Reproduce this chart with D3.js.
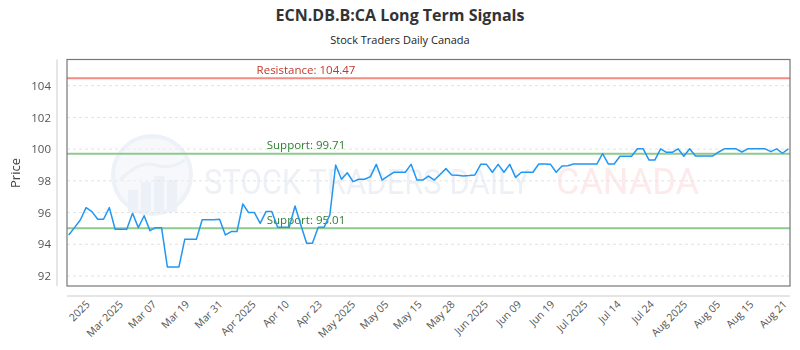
<!DOCTYPE html>
<html>
<head>
<meta charset="utf-8">
<script src="https://cdn.jsdelivr.net/npm/d3@7"></script>
<style>
	body { margin: 0; background: #fff; }
	svg { display: block; font-family: "Open Sans", "DejaVu Sans", sans-serif; }
</style>
</head>
<body>
<svg id="chart" width="800" height="350"></svg>
<script>
// chart data
var title		= "ECN.DB.B:CA Long Term Signals",
	subtitle	= "Stock Traders Daily Canada";

var prices = [
	94.59, 95.05, 95.53, 96.31, 96.06, 95.58, 95.58, 96.31, 94.95, 94.95,
	94.95, 95.96, 95.05, 95.80, 94.86, 95.05, 95.05, 92.57, 92.57, 92.57,
	94.31, 94.31, 94.31, 95.55, 95.55, 95.55, 95.58, 94.59, 94.80, 94.80,
	96.54, 96.00, 96.00, 95.32, 96.06, 96.06, 95.07, 95.07, 95.07, 96.41,
	95.22, 94.06, 94.06, 95.07, 95.07, 95.85, 99.00, 98.10, 98.51, 97.95,
	98.10, 98.10, 98.27, 99.04, 98.05, 98.30, 98.54, 98.54, 98.54, 99.04,
	98.05, 98.05, 98.30, 98.05, 98.40, 98.77, 98.37, 98.35, 98.30, 98.33,
	98.37, 99.04, 99.04, 98.54, 99.04, 98.54, 99.04, 98.22, 98.54, 98.54,
	98.54, 99.06, 99.06, 99.05, 98.54, 98.93, 98.95, 99.06, 99.06, 99.06,
	99.06, 99.06, 99.72, 99.06, 99.06, 99.55, 99.55, 99.55, 100.02, 100.02,
	99.31, 99.31, 100.02, 99.80, 99.80, 100.02, 99.55, 100.02, 99.57, 99.57,
	99.57, 99.57, 99.82, 100.02, 100.02, 100.02, 99.82, 100.02, 100.02, 100.02,
	100.02, 99.84, 100.02, 99.74, 100.02
];

var tickLabels = ["2025", "Mar 2025", "Mar 07", "Mar 19", "Mar 31", "Apr 2025", "Apr 10", "Apr 23",
	"May 2025", "May 05", "May 15", "May 28", "Jun 2025", "Jun 09", "Jun 19", "Jul 2025",
	"Jul 14", "Jul 24", "Aug 2025", "Aug 05", "Aug 15", "Aug 21"];

var yTicks = [92, 94, 96, 98, 100, 102, 104];

var levels = [
	{ name: "Resistance", value: 104.47, kind: "res" },
	{ name: "Support", value: 99.71, kind: "sup" },
	{ name: "Support", value: 95.01, kind: "sup" }
];

// layout
var	svg	= d3.select("#chart"),
	plot	= { left: 67, right: 790, top: 59.5, bottom: 286 },
	colors	= { line: "#2196f3", res: "#f28b82", resText: "#c0392b", sup: "#8fc98f", supText: "#2e7d32" };

var	x	= d3.scaleLinear().domain([0, prices.length - 1]).range([plot.left + 1.7, plot.right - 1.7]),
	y	= d3.scaleLinear().domain([91.37, 105.65]).range([plot.bottom, plot.top]),
	xt	= d3.scalePoint().domain(tickLabels).range([90, 787]);

// titles
svg.append("text").attr("x", 400).attr("y", 21).attr("text-anchor", "middle")
	.attr("font-size", 16).attr("font-weight", "bold").attr("fill", "#333").text(title);
svg.append("text").attr("x", 400).attr("y", 44).attr("text-anchor", "middle")
	.attr("font-size", 11).attr("fill", "#222").text(subtitle);

// gridlines
svg.append("g").selectAll("line").data(yTicks).join("line")
	.attr("x1", plot.left).attr("x2", plot.right)
	.attr("y1", function(d) { return y(d); }).attr("y2", function(d) { return y(d); })
	.attr("stroke", "#e2e2e2").attr("stroke-dasharray", "3,3");

// watermark (squeezed horizontally so the boxes stay apart)
var wm = svg.append("g").attr("opacity", 0.55);
wm.append("circle").attr("cx", 152).attr("cy", 175).attr("r", 39)
	.attr("fill", "#eef2f9").attr("stroke", "#dfe6f2").attr("stroke-width", 4);
[[128, 190, 10, 22], [141, 182, 10, 30], [154, 176, 10, 36], [167, 180, 10, 32]].forEach(function(b) {
	wm.append("rect").attr("x", b[0]).attr("y", b[1]).attr("width", b[2]).attr("height", b[3]).attr("fill", "#dde4f0");
});
wm.append("path").attr("d", "M120,180 Q140,160 155,165 T185,160").attr("fill", "none").attr("stroke", "#dde4f0").attr("stroke-width", 3);
function squeeze(txt, x0, w, col) {
	var t = wm.append("text").attr("x", 0).attr("y", 194).attr("font-size", 36)
		.attr("font-family", "Roboto, sans-serif").attr("fill", col).text(txt);
	var s = w / t.node().getComputedTextLength();
	t.attr("transform", "translate(" + x0 + ",0) scale(" + s + ",1)");
}
squeeze("STOCK TRADERS DAILY", 204, 326, "#dfe5ef");
squeeze("CANADA", 556, 143, "#fbd9d9");

// level lines
var lv = svg.append("g").selectAll("g").data(levels).join("g");
lv.append("line")
	.attr("x1", plot.left).attr("x2", plot.right)
	.attr("y1", function(d) { return y(d.value); }).attr("y2", function(d) { return y(d.value); })
	.attr("stroke", function(d) { return colors[d.kind]; }).attr("stroke-width", 2);
lv.append("text").attr("x", 306).attr("y", function(d) { return y(d.value) - 4.5; })
	.attr("text-anchor", "middle").attr("font-size", 11.5)
	.attr("fill", function(d) { return d.kind == "res" ? colors.resText : colors.supText; })
	.text(function(d) { return d.name + ": " + d.value.toFixed(2); });

// price line
svg.append("path").datum(prices)
	.attr("fill", "none").attr("stroke", colors.line).attr("stroke-width", 1.5)
	.attr("stroke-linejoin", "round")
	.attr("d", d3.line().x(function(d, i) { return x(i); }).y(function(d) { return y(d); }));

// plot border
svg.append("rect").attr("x", plot.left).attr("y", plot.top)
	.attr("width", plot.right - plot.left).attr("height", plot.bottom - plot.top)
	.attr("fill", "none").attr("stroke", "#777").attr("stroke-width", 1.2);

// y axis
var yAxis = svg.append("g").attr("transform", "translate(57,0)")
	.call(d3.axisLeft(y).tickValues(yTicks).tickSize(0).tickPadding(6));
yAxis.select(".domain").attr("d", "M0," + plot.top + "V" + plot.bottom).attr("stroke", "#ccc");
yAxis.selectAll(".tick text").attr("font-size", 11.5).attr("fill", "#555")
	.attr("font-family", "\"Open Sans\", sans-serif");

svg.append("text").attr("transform", "translate(20,173) rotate(-90)")
	.attr("text-anchor", "middle").attr("font-size", 13).attr("fill", "#444").text("Price");

// x axis
var xAxis = svg.append("g").attr("transform", "translate(0,296)")
	.call(d3.axisBottom(xt).tickSize(0).tickPadding(0));
xAxis.select(".domain").attr("d", "M" + plot.left + ",0H" + plot.right).attr("stroke", "#ccc");
xAxis.selectAll(".tick text")
	.attr("font-size", 10.5).attr("fill", "#555").attr("font-family", "\"Open Sans\", sans-serif")
	.attr("text-anchor", "end").attr("dy", null)
	.attr("transform", "translate(0,9) rotate(-45)");
</script>
</body>
</html>
